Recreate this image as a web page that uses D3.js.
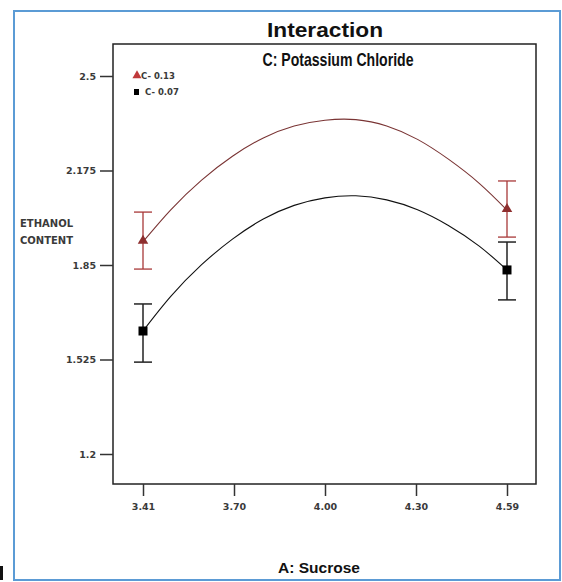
<!DOCTYPE html>
<html>
<head>
<meta charset="utf-8">
<script src="https://cdn.jsdelivr.net/npm/d3@7"></script>
<style>
  html, body { margin: 0; padding: 0; background: #fff; }
  svg { display: block; }
</style>
</head>
<body>
<svg id="chart" width="562" height="582"></svg>
<script>
// ---- Data ----
const sucrose = [3.41, 3.5, 3.6, 3.7, 3.8, 3.9, 4.0, 4.1, 4.2, 4.3, 4.4, 4.5, 4.59];
const ethanolHighC = [1.930, 2.040, 2.142, 2.224, 2.287, 2.328, 2.348, 2.350, 2.328, 2.282, 2.214, 2.131, 2.039]; // C = 0.13
const ethanolLowC  = [1.623, 1.742, 1.851, 1.939, 2.008, 2.055, 2.081, 2.088, 2.074, 2.040, 1.986, 1.915, 1.833]; // C = 0.07

const designPointsA = [3.41, 4.59];
const highCMean  = [1.930, 2.039];
const highCLower = [1.836, 1.946];
const highCUpper = [2.032, 2.139];
const lowCMean   = [1.623, 1.833];
const lowCLower  = [1.516, 1.730];
const lowCUpper  = [1.716, 1.929];

const yTickValues = [1.2, 1.525, 1.85, 2.175, 2.5];
const yTickLabels = ["1.2", "1.525", "1.85", "2.175", "2.5"];
const xTickValues = [3.41, 3.705, 4.00, 4.295, 4.59];
const xTickLabels = ["3.41", "3.70", "4.00", "4.30", "4.59"];

const legendLabels = ["C- 0.13", "C- 0.07"];

// ---- Layout ----
const svg = d3.select("#chart");
const frame = { left: 113, top: 44, right: 536, bottom: 484 };

const x = d3.scaleLinear().domain([3.41, 4.59]).range([143, 507]);
const y = d3.scaleLinear().domain([1.2, 2.5]).range([454, 76]);

const RED = "#a83838";
const RED_LINE = "#7a3434";
const DARK = "#111";

// outer blue border
svg.append("rect")
  .attr("x", 14).attr("y", 11).attr("width", 546).attr("height", 569)
  .attr("fill", "#fff").attr("stroke", "#5b9bd5").attr("stroke-width", 2);

// small black mark at bottom-left (crop artifact in the reference)
svg.append("rect").attr("x", 0).attr("y", 566).attr("width", 3).attr("height", 14).attr("fill", "#111");

// plot frame
svg.append("rect")
  .attr("x", frame.left).attr("y", frame.top)
  .attr("width", frame.right - frame.left).attr("height", frame.bottom - frame.top)
  .attr("fill", "none").attr("stroke", "#222").attr("stroke-width", 1.5);

// titles
svg.append("text").attr("x", 325).attr("y", 37)
  .attr("text-anchor", "middle")
  .attr("font-family", "Liberation Sans, Arial, sans-serif")
  .attr("font-weight", "bold").attr("font-size", 21)
  .attr("textLength", 116).attr("lengthAdjust", "spacingAndGlyphs")
  .attr("fill", "#111").text("Interaction");

svg.append("text").attr("x", 338).attr("y", 66)
  .attr("text-anchor", "middle")
  .attr("font-family", "Liberation Sans, Arial, sans-serif")
  .attr("font-weight", "bold").attr("font-size", 19)
  .attr("textLength", 151).attr("lengthAdjust", "spacingAndGlyphs")
  .attr("fill", "#111").text("C: Potassium Chloride");

svg.append("text").attr("x", 319).attr("y", 573)
  .attr("text-anchor", "middle")
  .attr("font-family", "Liberation Sans, Arial, sans-serif")
  .attr("font-weight", "bold").attr("font-size", 15)
  .attr("textLength", 82).attr("lengthAdjust", "spacingAndGlyphs")
  .attr("fill", "#111").text("A: Sucrose");

// y axis label
const yLab = svg.append("text")
  .attr("font-family", "DejaVu Sans, Verdana, sans-serif")
  .attr("font-weight", "bold").attr("font-size", 10).attr("fill", "#3a3a3a");
yLab.append("tspan").attr("x", 20).attr("y", 227).text("ETHANOL");
yLab.append("tspan").attr("x", 20).attr("y", 244).text("CONTENT");

// y axis
const yAxis = d3.axisLeft(y)
  .tickValues(yTickValues)
  .tickFormat((d, i) => yTickLabels[i])
  .tickSize(13).tickPadding(4);
const gy = svg.append("g").attr("transform", `translate(${frame.left},0)`).call(yAxis);
gy.select(".domain").remove();
gy.selectAll(".tick line").attr("stroke", "#333").attr("stroke-width", 1.5);
gy.selectAll(".tick text")
  .attr("font-family", "DejaVu Sans, Verdana, sans-serif")
  .attr("font-weight", "bold").attr("font-size", 9.5).attr("fill", "#3a3a3a");

// x axis
const xAxis = d3.axisBottom(x)
  .tickValues(xTickValues)
  .tickFormat((d, i) => xTickLabels[i])
  .tickSize(12).tickPadding(7);
const gx = svg.append("g").attr("transform", `translate(0,${frame.bottom})`).call(xAxis);
gx.select(".domain").remove();
gx.selectAll(".tick line").attr("stroke", "#333").attr("stroke-width", 1.5);
gx.selectAll(".tick text")
  .attr("font-family", "DejaVu Sans, Verdana, sans-serif")
  .attr("font-weight", "bold").attr("font-size", 9.5).attr("fill", "#3a3a3a");

// curves
const line = d3.line().x(d => x(d[0])).y(d => y(d[1])).curve(d3.curveNatural);
svg.append("path").datum(sucrose.map((a, i) => [a, ethanolHighC[i]]))
  .attr("d", line).attr("fill", "none").attr("stroke", RED_LINE).attr("stroke-width", 1.1);
svg.append("path").datum(sucrose.map((a, i) => [a, ethanolLowC[i]]))
  .attr("d", line).attr("fill", "none").attr("stroke", DARK).attr("stroke-width", 1.1);

// error bars
function errorBars(lower, upper, color, width) {
  const g = svg.append("g");
  designPointsA.forEach((a, i) => {
    const cx = x(a);
    g.append("line").attr("x1", cx).attr("x2", cx).attr("y1", y(lower[i])).attr("y2", y(upper[i]))
      .attr("stroke", color).attr("stroke-width", width);
    [lower[i], upper[i]].forEach(v => {
      g.append("line").attr("x1", cx - 9).attr("x2", cx + 9).attr("y1", y(v)).attr("y2", y(v))
        .attr("stroke", color).attr("stroke-width", width);
    });
  });
}
errorBars(highCLower, highCUpper, RED, 1.3);
errorBars(lowCLower, lowCUpper, "#222", 1.5);

// markers
const tri = d3.symbol().type(d3.symbolTriangle).size(48);
svg.append("g").selectAll("path").data(designPointsA).join("path")
  .attr("d", tri)
  .attr("transform", (d, i) => `translate(${x(d)},${y(highCMean[i]) - 1})`)
  .attr("fill", "#8e2f2f");
svg.append("g").selectAll("rect").data(designPointsA).join("rect")
  .attr("x", d => x(d) - 4.5).attr("y", (d, i) => y(lowCMean[i]) - 4.5)
  .attr("width", 9).attr("height", 9).attr("fill", "#000");

// legend
svg.append("path").attr("d", d3.symbol().type(d3.symbolTriangle).size(36))
  .attr("transform", "translate(137,75.5)").attr("fill", "#c0393b");
svg.append("rect").attr("x", 134).attr("y", 89).attr("width", 5).attr("height", 6).attr("fill", "#000");
svg.append("g").selectAll("text").data(legendLabels).join("text")
  .attr("x", (d, i) => i === 0 ? 141 : 145)
  .attr("y", (d, i) => i === 0 ? 79 : 95)
  .attr("font-family", "DejaVu Sans, Verdana, sans-serif")
  .attr("font-weight", "bold").attr("font-size", 8.5).attr("fill", "#3a3a3a")
  .text(d => d);
</script>
</body>
</html>
